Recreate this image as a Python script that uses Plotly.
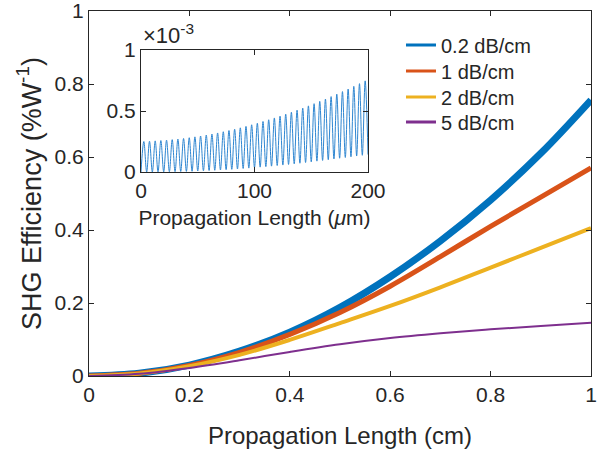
import plotly.graph_objects as go

# ---- main chart data ----
length_cm = [0, 0.1, 0.2, 0.3, 0.4, 0.5, 0.6, 0.7, 0.8, 0.9, 1.0]
eff_02 = [0, 0.0075, 0.030, 0.068, 0.120, 0.188, 0.272, 0.370, 0.482, 0.610, 0.756]
eff_1 = [0, 0.0073, 0.029, 0.065, 0.114, 0.174, 0.246, 0.327, 0.410, 0.490, 0.570]
eff_2 = [0, 0.0070, 0.027, 0.058, 0.099, 0.145, 0.192, 0.243, 0.297, 0.351, 0.405]
eff_5 = [0, 0.0060, 0.022, 0.043, 0.066, 0.087, 0.104, 0.117, 0.128, 0.137, 0.146]
labels = ["0.2 dB/cm", "1 dB/cm", "2 dB/cm", "5 dB/cm"]
colors = ["#0072BD", "#D95319", "#EDB120", "#7E2F8E"]
widths = [7, 5, 4, 2]
main_ticks = [0, 0.2, 0.4, 0.6, 0.8, 1]
main_tick_text = ["0", "0.2", "0.4", "0.6", "0.8", "1"]

# ---- inset data (x10^-3), peaks and troughs ----
peak_um = [2.5, 7.5, 12.5, 17.5, 22.5, 27.5, 32.5, 37.5, 42.5, 47.5,
           52.5, 57.5, 62.5, 67.5, 72.5, 77.5, 82.5, 87.5, 92.5, 97.5,
           102.5, 107.5, 112.5, 117.5, 122.5, 127.5, 132.5, 137.5, 142.5, 147.5,
           152.5, 157.5, 162.5, 167.5, 172.5, 177.5, 182.5, 187.5, 192.5, 197.5]
peak_val = [0.250, 0.252, 0.255, 0.258, 0.261, 0.265, 0.270, 0.275, 0.281, 0.288,
            0.295, 0.303, 0.311, 0.320, 0.330, 0.340, 0.351, 0.362, 0.374, 0.387,
            0.400, 0.414, 0.428, 0.443, 0.458, 0.474, 0.490, 0.507, 0.524, 0.542,
            0.560, 0.579, 0.598, 0.618, 0.638, 0.659, 0.680, 0.702, 0.724, 0.747]
trough_um = [0, 5, 10, 15, 20, 25, 30, 35, 40, 45, 50, 55, 60, 65, 70, 75, 80,
             85, 90, 95, 100, 105, 110, 115, 120, 125, 130, 135, 140, 145, 150,
             155, 160, 165, 170, 175, 180, 185, 190, 195, 200]
trough_val = [0.000, 0.000, 0.000, 0.001, 0.001, 0.002, 0.003, 0.004, 0.005, 0.006,
              0.008, 0.010, 0.012, 0.014, 0.017, 0.019, 0.022, 0.025, 0.029, 0.032,
              0.036, 0.040, 0.044, 0.048, 0.053, 0.057, 0.062, 0.067, 0.072, 0.078,
              0.083, 0.089, 0.095, 0.101, 0.107, 0.113, 0.119, 0.125, 0.131, 0.137,
              0.143]

inset_x, inset_y = [], []
for i in range(len(peak_um)):
    inset_x += [trough_um[i], peak_um[i]]
    inset_y += [trough_val[i], peak_val[i]]
inset_x.append(trough_um[-1])
inset_y.append(trough_val[-1])

FONT = "Liberation Sans, Arial, sans-serif"
TXT = "#262626"

L, R, T, B = 89, 17, 11, 76
W, H = 608, 452
pw, ph = W - L - R, H - T - B
ix0, ix1, iy0, iy1 = 141, 368, 50, 172
dx = [(ix0 - L) / pw, (ix1 - L) / pw]
dy = [(H - B - iy1) / ph, (H - B - iy0) / ph]
legend_rows_px = [45, 71, 97, 122]

fig = go.Figure()
for lab, ys, c, w in zip(labels, [eff_02, eff_1, eff_2, eff_5], colors, widths):
    fig.add_trace(go.Scatter(x=length_cm, y=ys, mode="lines", line=dict(color=c, width=w, shape="spline"),
                             showlegend=False, xaxis="x", yaxis="y"))
legend_names = ["legend", "legend2", "legend3", "legend4"]
for lab, c, lg in zip(labels, colors, legend_names):
    fig.add_trace(go.Scatter(x=[None], y=[None], mode="lines", line=dict(color=c, width=3),
                             name=lab, xaxis="x", yaxis="y", legend=lg, showlegend=True))

fig.add_trace(go.Scatter(x=inset_x, y=inset_y, mode="lines",
                         line=dict(color="#2E86D1", width=1, shape="spline"),
                         showlegend=False, xaxis="x2", yaxis="y2"))

axis_common = dict(showline=True, mirror="ticks", linecolor=TXT, linewidth=1, ticks="inside",
                   ticklen=5, tickcolor=TXT, showgrid=False, zeroline=False, automargin=False,
                   ticklabeloverflow="allow",
                   tickfont=dict(family=FONT, size=21, color=TXT))

legend_layout = {}
for lg, ypx in zip(legend_names, legend_rows_px):
    legend_layout[lg] = dict(x=0.6215, y=(H - B - ypx) / ph, xanchor="left", yanchor="middle",
                             bgcolor="rgba(0,0,0,0)", borderwidth=0,
                             font=dict(family=FONT, size=20, color=TXT))

fig.update_layout(
    width=W, height=H, margin=dict(l=L, r=R, t=T, b=B, autoexpand=False),
    paper_bgcolor="white", plot_bgcolor="white",
    font=dict(family=FONT, color=TXT),
    xaxis=dict(range=[0, 1], tickvals=main_ticks, ticktext=main_tick_text,
               title=dict(text="Propagation Length (cm)", font=dict(size=24), standoff=21),
               **axis_common),
    yaxis=dict(range=[0, 1], tickvals=main_ticks, ticktext=main_tick_text,
               title=dict(text="SHG Efficiency (%W<sup>-1</sup>)", font=dict(size=27), standoff=5),
               **axis_common),
    xaxis2=dict(domain=dx, anchor="y2", range=[0, 200], dtick=100,
                title=dict(text="Propagation Length (<i>μ</i>m)", font=dict(size=21), standoff=9), **axis_common),
    yaxis2=dict(domain=dy, anchor="x2", range=[0, 1], tickvals=[0, 0.5, 1], ticktext=["0", "0.5", "1"],
                **axis_common),
    annotations=[dict(x=dx[0], y=dy[1], xref="paper", yref="paper", xanchor="left", yanchor="bottom",
                      text="×10<sup>-3</sup>", showarrow=False, yshift=0,
                      font=dict(family=FONT, size=22, color=TXT))],
    **legend_layout,
)

fig.write_html("out.html")
